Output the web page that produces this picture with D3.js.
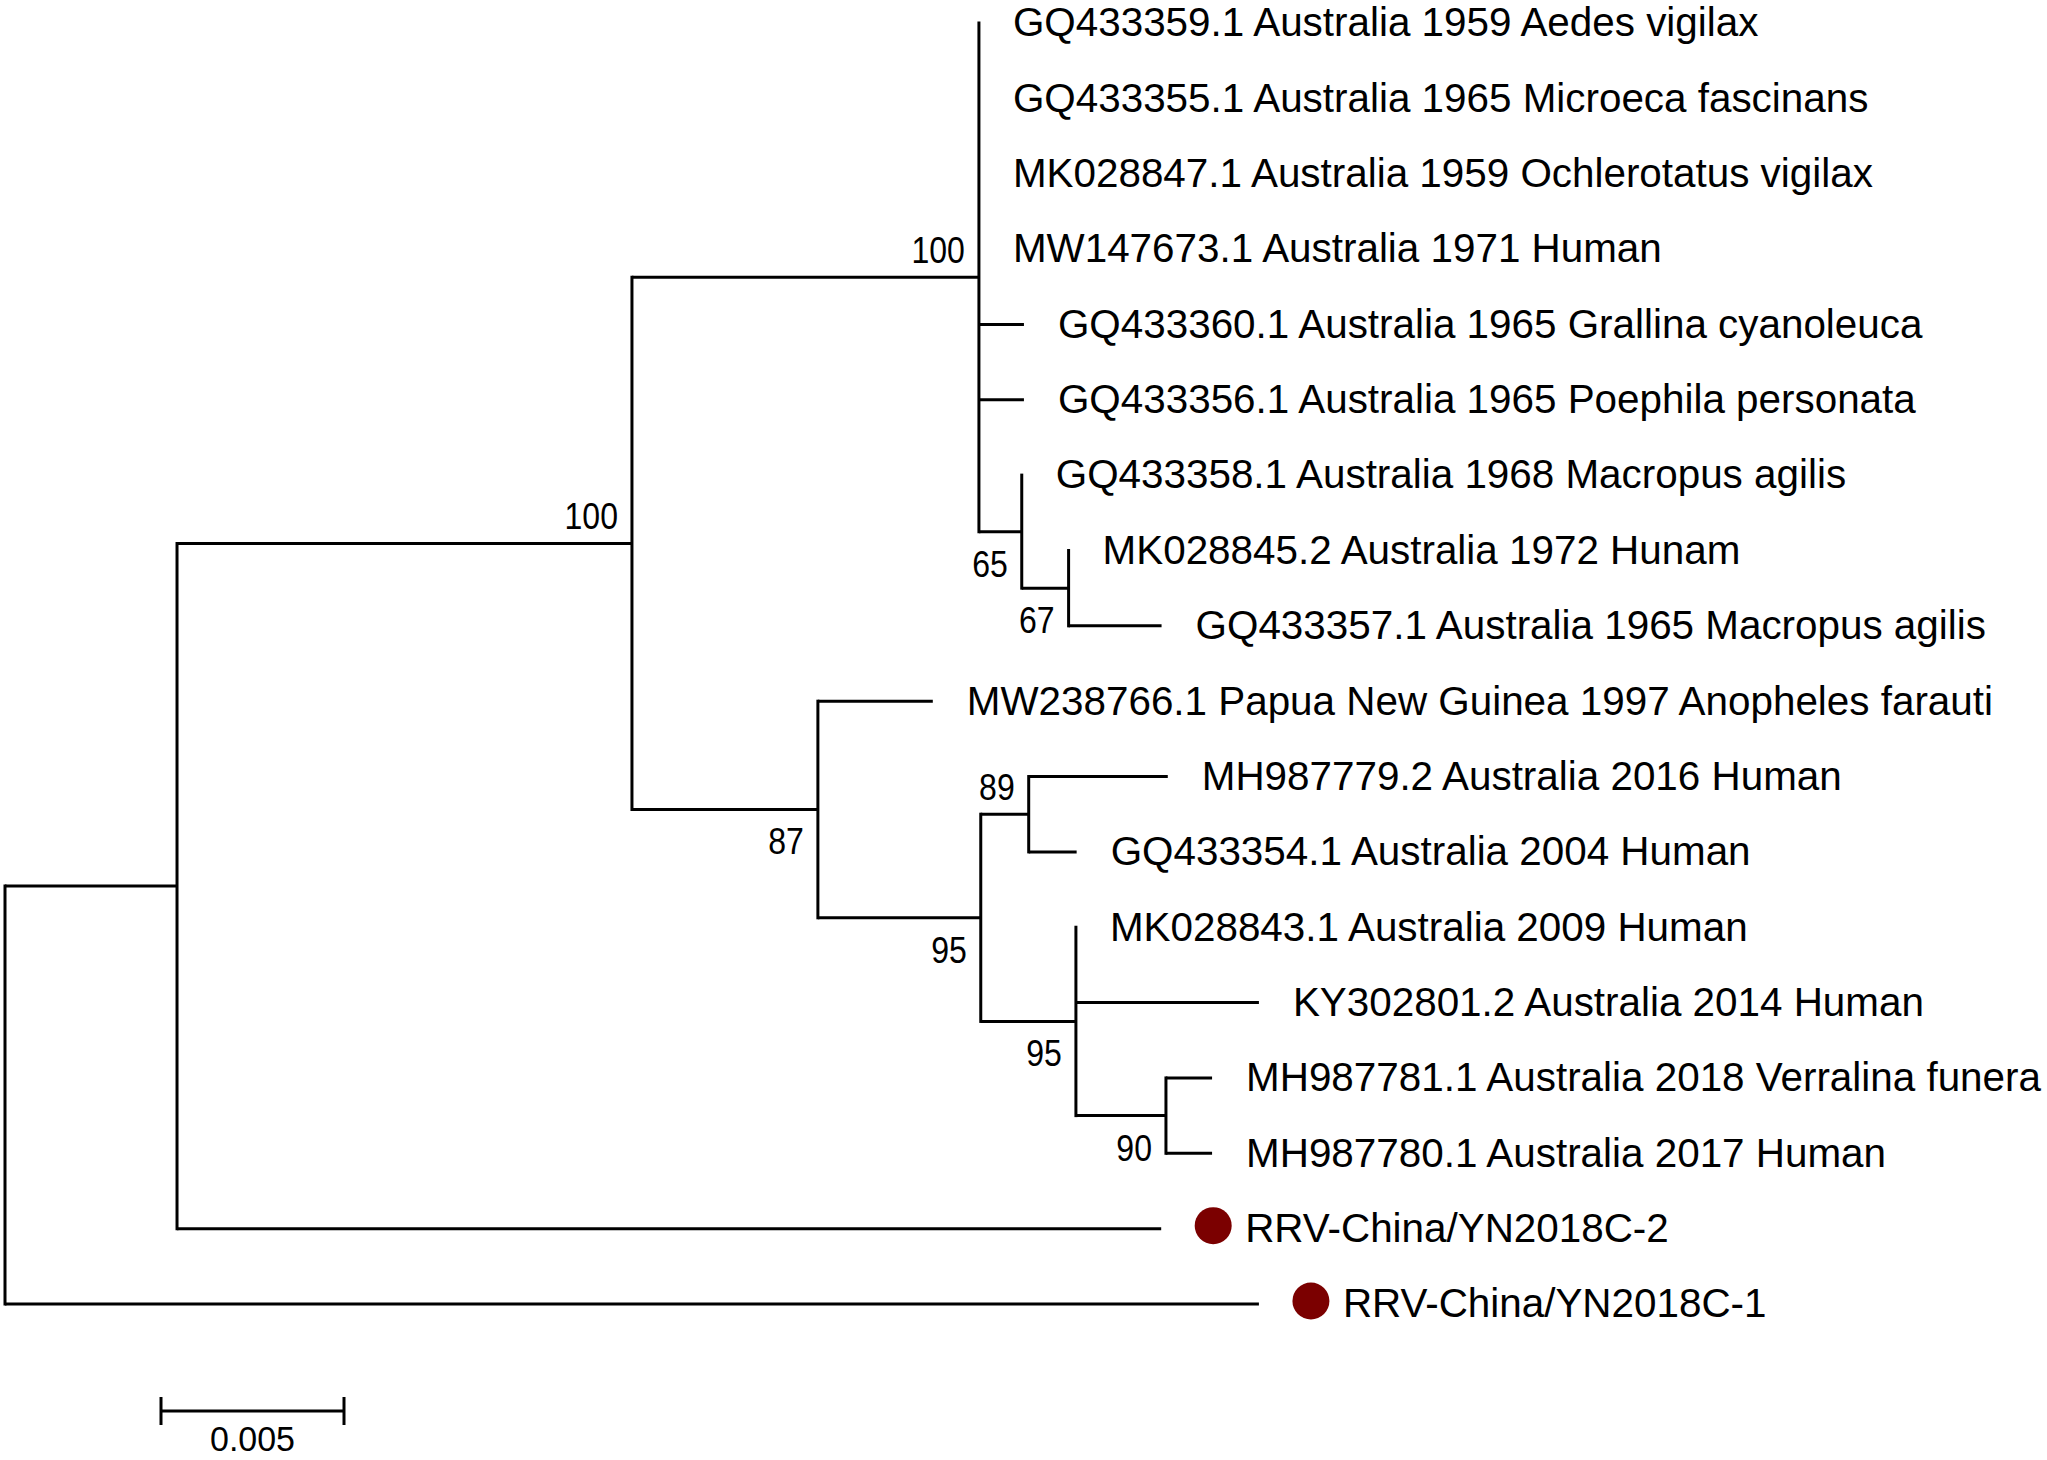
<!DOCTYPE html>
<html>
<head>
<meta charset="utf-8">
<script src="https://cdn.jsdelivr.net/npm/d3@7"></script>
<style>
  body { margin: 0; background: #fff; }
</style>
</head>
<body>
<div id="my_dataviz"></div>
<script>
// Leaves, top to bottom, with their parent node and branch length
const leafNames = [
  "GQ433359.1 Australia 1959 Aedes vigilax",
  "GQ433355.1 Australia 1965 Microeca fascinans",
  "MK028847.1 Australia 1959 Ochlerotatus vigilax",
  "MW147673.1 Australia 1971 Human",
  "GQ433360.1 Australia 1965 Grallina cyanoleuca",
  "GQ433356.1 Australia 1965 Poephila personata",
  "GQ433358.1 Australia 1968 Macropus agilis",
  "MK028845.2 Australia 1972 Hunam",
  "GQ433357.1 Australia 1965 Macropus agilis",
  "MW238766.1 Papua New Guinea 1997 Anopheles farauti",
  "MH987779.2 Australia 2016 Human",
  "GQ433354.1 Australia 2004 Human",
  "MK028843.1 Australia 2009 Human",
  "KY302801.2 Australia 2014 Human",
  "MH987781.1 Australia 2018 Verralina funera",
  "MH987780.1 Australia 2017 Human",
  "RRV-China/YN2018C-2",
  "RRV-China/YN2018C-1"
];
const leafParents = ["C", "C", "C", "C", "C", "C", "D", "E", "E", "F", "I", "I", "H", "H", "J", "J", "A", "root"];
const leafLengths = [0, 0, 0, 0, 0.00123, 0.00123, 0, 0, 0.00254, 0.00314, 0.0038, 0.00131, 0, 0.005, 0.00126, 0.00126, 0.02689, 0.03426];

// Internal nodes, their parent, branch length and bootstrap support
const innerNodes = ["root", "A", "B", "C", "D", "E", "F", "G", "I", "H", "J"];
const innerParents = [null, "root", "A", "B", "C", "D", "B", "F", "G", "G", "H"];
const innerLengths = [0, 0.0047, 0.01243, 0.00948, 0.00117, 0.00128, 0.00508, 0.00445, 0.00131, 0.0026, 0.00246];
const bootstrap = [null, null, 100, 100, 65, 67, 87, 95, 89, 95, 90];

// Sequences from this study get a red dot
const markedLeaves = ["RRV-China/YN2018C-2", "RRV-China/YN2018C-1"];
const scaleBarValue = 0.005;
const scaleBarLabel = "0.005";

const width = 2047, height = 1460;

const svg = d3.select("#my_dataviz")
  .append("svg")
    .attr("width", width)
    .attr("height", height);

// Build the tree
const rows = innerNodes.map((id, i) => ({ id, parent: innerParents[i], len: innerLengths[i], boot: bootstrap[i], leaf: -1 }))
  .concat(leafNames.map((id, i) => ({ id, parent: leafParents[i], len: leafLengths[i], boot: null, leaf: i })));

const root = d3.stratify().id(d => d.id).parentId(d => d.parent)(rows);

// Cumulative distance from the root
root.eachBefore(n => { n.dist = n.parent ? n.parent.dist + n.data.len : 0; });

const maxDist = d3.max(root.leaves(), d => d.dist);

const x = d3.scaleLinear()
  .domain([0, maxDist])
  .range([5, 5 + maxDist * 36600]);

const y = d3.scaleLinear()
  .domain([0, leafNames.length - 1])
  .range([23, 1304]);

// Leaves sit on their row, internal nodes halfway between outer children
root.eachAfter(n => {
  if (!n.children) { n.py = y(n.data.leaf); return; }
  const ys = n.children.map(c => c.py);
  n.py = (d3.min(ys) + d3.max(ys)) / 2;
});

const g = svg.append("g")
  .attr("stroke", "#000")
  .attr("stroke-width", 3)
  .attr("fill", "none");

// Vertical connectors
g.selectAll("line.v")
  .data(root.descendants().filter(d => d.children))
  .join("line")
    .attr("class", "v")
    .attr("x1", d => x(d.dist))
    .attr("x2", d => x(d.dist))
    .attr("y1", d => d3.min(d.children, c => c.py))
    .attr("y2", d => d3.max(d.children, c => c.py))
    .attr("stroke-linecap", "square");

// Horizontal branches
g.selectAll("line.h")
  .data(root.descendants().filter(d => d.parent && d.data.len > 0))
  .join("line")
    .attr("class", "h")
    .attr("x1", d => x(d.parent.dist))
    .attr("x2", d => x(d.dist))
    .attr("y1", d => d.py)
    .attr("y2", d => d.py);

// Leaf labels
const leaves = root.leaves();
const isMarked = d => markedLeaves.includes(d.id);

svg.selectAll("circle.mark")
  .data(leaves.filter(isMarked))
  .join("circle")
    .attr("class", "mark")
    .attr("cx", d => x(d.dist) + 52)
    .attr("cy", d => d.py - 3)
    .attr("r", 18.5)
    .attr("fill", "#7b0000");

svg.selectAll("text.leaf")
  .data(leaves)
  .join("text")
    .attr("class", "leaf")
    .attr("x", d => x(d.dist) + (isMarked(d) ? 84 : 34))
    .attr("y", d => d.py)
    .attr("dy", "0.33em")
    .style("font-family", "'Liberation Sans', Arial, sans-serif")
    .style("font-size", "40.4px")
    .style("fill", "#000")
    .text(d => d.id);

// Bootstrap values: above the branch for upper nodes, below for lower ones
const supported = root.descendants().filter(d => d.data.boot != null);
svg.selectAll("text.boot")
  .data(supported)
  .join("text")
    .attr("class", "boot")
    .attr("x", d => x(d.dist) - 14)
    .attr("y", d => d.py < d.parent.py ? d.py - 14 : d.py + 45)
    .attr("text-anchor", "end")
    .attr("textLength", d => String(d.data.boot).length * 17.8)
    .attr("lengthAdjust", "spacingAndGlyphs")
    .style("font-family", "'Liberation Sans', Arial, sans-serif")
    .style("font-size", "37px")
    .style("fill", "#000")
    .text(d => d.data.boot);

// Scale bar
const barX0 = 161, barY = 1411;
const barX1 = barX0 + (x(scaleBarValue) - x(0));
const bar = svg.append("g").attr("stroke", "#000").attr("stroke-width", 3);
bar.append("line").attr("x1", barX0).attr("x2", barX1).attr("y1", barY).attr("y2", barY);
bar.append("line").attr("x1", barX0).attr("x2", barX0).attr("y1", barY - 14).attr("y2", barY + 14);
bar.append("line").attr("x1", barX1).attr("x2", barX1).attr("y1", barY - 14).attr("y2", barY + 14);

svg.append("text")
  .attr("x", (barX0 + barX1) / 2)
  .attr("y", 1451)
  .attr("text-anchor", "middle")
  .attr("textLength", 85)
  .attr("lengthAdjust", "spacingAndGlyphs")
  .style("font-family", "'Liberation Sans', Arial, sans-serif")
  .style("font-size", "35px")
  .style("fill", "#000")
  .text(scaleBarLabel);
</script>
</body>
</html>
